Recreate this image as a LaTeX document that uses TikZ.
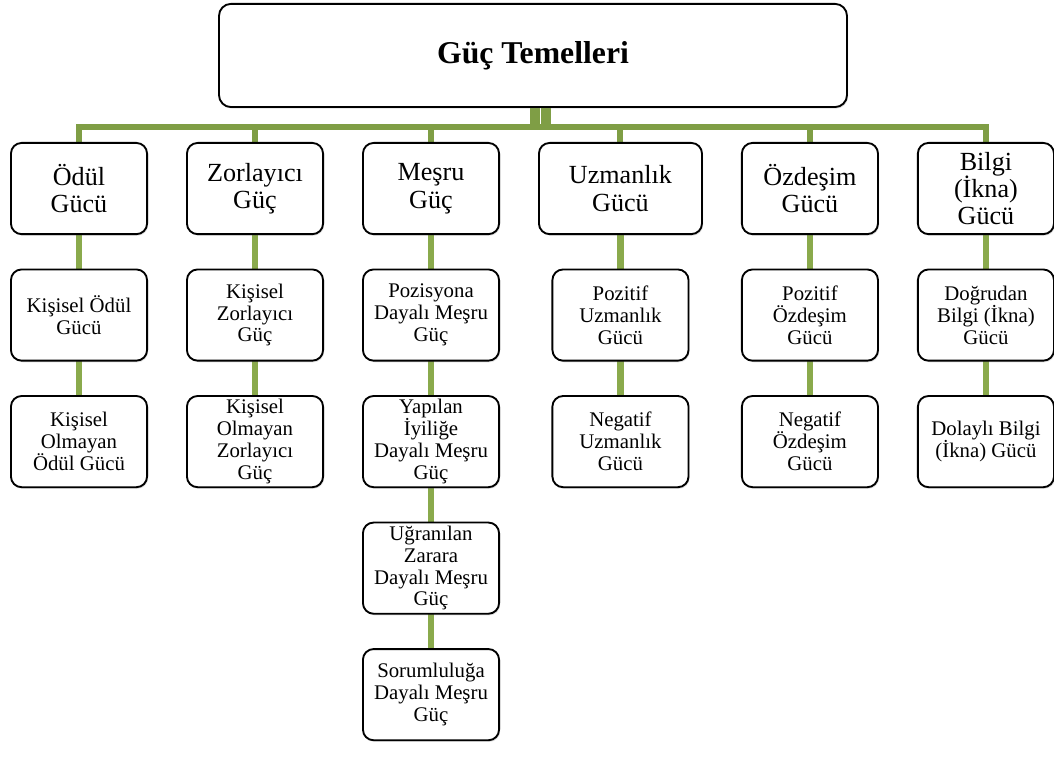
\documentclass[tikz,border=0pt]{standalone}
\usepackage{fontspec}
\setmainfont{Liberation Serif}
\usepackage{tikz}
\usetikzlibrary{positioning,calc,shadows,backgrounds}
\definecolor{busgreen}{HTML}{7F9E45}
\definecolor{linkgreen}{HTML}{8AAA4C}

\begin{document}
\begin{tikzpicture}[
    node distance=26.5pt and 29.9pt,
    root/.style={draw=black, line width=1.4pt, outer sep=0pt, fill=white, rounded corners=9pt, minimum width=471pt, minimum height=77.4pt, align=center, font=\fontsize{23.8}{27}\selectfont\bfseries, drop shadow={shadow xshift=0.8pt, shadow yshift=-1.2pt, opacity=0.25}},
    base/.style={draw=black, line width=1.4pt, outer sep=0pt, fill=white, rounded corners=8pt, minimum width=102.1pt, minimum height=68.4pt, align=center, inner sep=1pt, font=\fontsize{19.6}{20.6}\selectfont, drop shadow={shadow xshift=0.8pt, shadow yshift=-1.2pt, opacity=0.25}},
    sub/.style={base, font=\fontsize{15.6}{16.4}\selectfont},
    bus/.style={draw=busgreen, line width=4.5pt},
    link/.style={draw=linkgreen, line width=5pt}
]
    \useasboundingbox (0,0) rectangle (790.5pt,-577.5pt);

    % Root
    \node[root] (top) at (399.75pt,-41.6pt) {Güç Temelleri};

    % Power bases (first row)
    \node[base] (odul) at (59.25pt,-141.4pt) {Ödül\\Gücü};
    \node[base, right=of odul] (zor) {Zorlayıcı\\Güç};
    \node[base, right=of zor] (mesru) {Meşru\\Güç};
    \node[base, right=of mesru, minimum width=122.3pt] (uzm) {Uzmanlık\\Gücü};
    \node[base, right=of uzm] (ozd) {Özdeşim\\Gücü};
    \node[base, right=of ozd] (bilgi) {Bilgi\\(İkna)\\Gücü};

    % Sub types
    \node[sub, below=of odul] (odul2) {Kişisel Ödül\\Gücü};
    \node[sub, below=of odul2] (odul3) {Kişisel\\Olmayan\\Ödül Gücü};

    \node[sub, below=of zor] (zor2) {Kişisel\\Zorlayıcı\\Güç};
    \node[sub, below=of zor2] (zor3) {Kişisel\\Olmayan\\Zorlayıcı\\Güç};

    \node[sub, below=of mesru] (mesru2) {Pozisyona\\Dayalı Meşru\\Güç};
    \node[sub, below=of mesru2] (mesru3) {Yapılan\\İyiliğe\\Dayalı Meşru\\Güç};
    \node[sub, below=of mesru3] (mesru4) {Uğranılan\\Zarara\\Dayalı Meşru\\Güç};
    \node[sub, below=of mesru4] (mesru5) {Sorumluluğa\\Dayalı Meşru\\Güç};

    \node[sub, below=of uzm] (uzm2) {Pozitif\\Uzmanlık\\Gücü};
    \node[sub, below=of uzm2] (uzm3) {Negatif\\Uzmanlık\\Gücü};

    \node[sub, below=of ozd] (ozd2) {Pozitif\\Özdeşim\\Gücü};
    \node[sub, below=of ozd2] (ozd3) {Negatif\\Özdeşim\\Gücü};

    \node[sub, below=of bilgi] (bilgi2) {Doğrudan\\Bilgi (İkna)\\Gücü};
    \node[sub, below=of bilgi2] (bilgi3) {Dolaylı Bilgi\\(İkna) Gücü};

    % Connections
    \begin{scope}[on background layer]
        \draw[bus, line width=7pt] ([xshift=1.5pt]top.south) -- ++(0,-13.5pt);
        \draw[bus, line width=7pt] ([xshift=9.75pt]top.south) -- ++(0,-13.5pt);
        \draw[bus] (odul.north) -- ++(0,12pt) -| (bilgi.north);
        \foreach \n in {zor,mesru,uzm,ozd}
            \draw[bus] (\n.north) -- ++(0,12pt);

        \foreach \a/\b in {odul/odul2,odul2/odul3,zor/zor2,zor2/zor3,
                           mesru/mesru2,mesru2/mesru3,mesru3/mesru4,mesru4/mesru5,
                           uzm/uzm2,uzm2/uzm3,ozd/ozd2,ozd2/ozd3,bilgi/bilgi2,bilgi2/bilgi3}
            \draw[link] (\a) -- (\b);
    \end{scope}
\end{tikzpicture}
\end{document}
